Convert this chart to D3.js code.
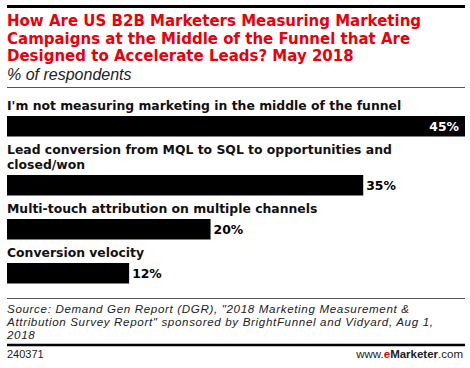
<!DOCTYPE html>
<html>
<head>
<meta charset="utf-8">
<script src="https://cdn.jsdelivr.net/npm/d3@7"></script>
<style>
  html, body { margin: 0; padding: 0; background: #fff; }
  svg { display: block; }
  text { font-family: "Liberation Sans", Arial, sans-serif; }
  .heavy { font-family: "DejaVu Sans", Verdana, sans-serif; font-weight: bold; }
</style>
</head>
<body>
<svg id="chart" width="470" height="368"></svg>
<script>
// ── Data ───────────────────────────────────────────────
const titleLines = [
    'How Are US B2B Marketers Measuring Marketing',
    'Campaigns at the Middle of the Funnel that Are',
    'Designed to Accelerate Leads? May 2018'
];
const subtitle = '% of respondents';
const categories = [
    ["I'm not measuring marketing in the middle of the funnel"],
    ['Lead conversion from MQL to SQL to opportunities and', 'closed/won'],
    ['Multi-touch attribution on multiple channels'],
    ['Conversion velocity']
];
const values = [45, 35, 20, 12];
const sourceLines = [
    'Source: Demand Gen Report (DGR), "2018 Marketing Measurement &',
    'Attribution Survey Report" sponsored by BrightFunnel and Vidyard, Aug 1,',
    '2018'
];
const chartId = '240371';

// ── Layout ─────────────────────────────────────────────
const left = 7, right = 465;
const svg = d3.select('#chart');

const rule = (y, w) => svg.append('line')
    .attr('x1', left).attr('x2', right).attr('y1', y).attr('y2', y)
    .attr('stroke', '#000').attr('stroke-width', w);

rule(6.5, 3);

svg.append('g').selectAll('text').data(titleLines).join('text')
    .attr('class', 'heavy')
    .attr('x', left).attr('y', (d, i) => 26 + i * 17.5)
    .attr('fill', '#e8000b').attr('font-size', 15)
    .text(d => d);

svg.append('text').attr('x', left).attr('y', 80)
    .attr('font-size', 16).attr('font-style', 'italic').attr('fill', '#222')
    .text(subtitle);

rule(87.5, 1).attr('stroke', '#555');

// bars: label line(s) sit just above each bar
const barTops = [116, 175, 219, 263];
const barH = 20.5;
const x = d3.scaleLinear().domain([0, 45]).range([left, right]);
const maxV = d3.max(values);

const rows = svg.append('g').selectAll('g').data(values).join('g');

rows.append('text')
    .attr('class', 'heavy')
    .attr('font-size', 12.4).attr('fill', '#111')
    .selectAll('tspan')
    .data((d, i) => categories[i].map((t, j, a) => ({ t, y: barTops[i] - 6 - (a.length - 1 - j) * 15 })))
    .join('tspan').attr('x', left).attr('y', d => d.y).text(d => d.t);

rows.append('rect')
    .attr('x', x(0)).attr('y', (d, i) => barTops[i])
    .attr('width', d => x(d) - x(0)).attr('height', barH)
    .attr('fill', '#000');

rows.append('text')
    .attr('class', 'heavy')
    .attr('y', (d, i) => barTops[i] + barH / 2 + 5)
    .attr('x', d => d === maxV ? x(d) - 6 : x(d) + 3)
    .attr('text-anchor', d => d === maxV ? 'end' : 'start')
    .attr('fill', d => d === maxV ? '#fff' : '#000')
    .attr('font-size', 12.4)
    .text(d => d + '%');

rule(298.5, 1).attr('stroke', '#555');

svg.append('g').selectAll('text').data(sourceLines).join('text')
    .attr('x', left).attr('y', (d, i) => 312.5 + i * 13.3)
    .attr('font-size', 11.6).attr('letter-spacing', 0.65)
    .attr('font-style', 'italic').attr('fill', '#222')
    .text(d => d);

rule(345, 2.5);

svg.append('text').attr('x', left).attr('y', 358)
    .attr('font-size', 11).attr('fill', '#222').text(chartId);

const brand = svg.append('text').attr('x', right - 2).attr('y', 358)
    .attr('text-anchor', 'end').attr('font-size', 11.5).attr('fill', '#222');
brand.append('tspan').text('www.');
brand.append('tspan').attr('fill', '#e8000b').attr('font-weight', 'bold').text('e');
brand.append('tspan').attr('font-weight', 'bold').text('Marketer');
brand.append('tspan').text('.com');
</script>
</body>
</html>
